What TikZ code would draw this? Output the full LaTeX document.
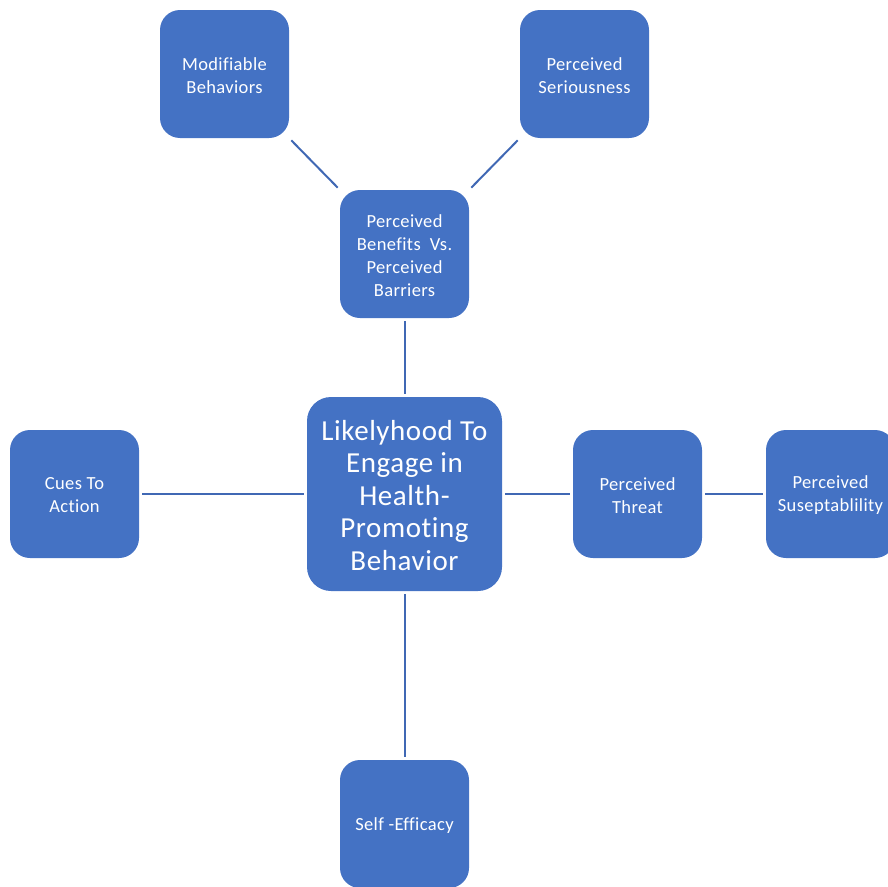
\documentclass[tikz,border=0pt]{standalone}
\usepackage{fontspec}
\setmainfont{Carlito}[LetterSpace=2,Ligatures={NoCommon,NoDiscretionary,NoContextual}]
\definecolor{boxblue}{HTML}{4472C4}
\definecolor{lineblue}{HTML}{4068B4}
\begin{document}
\begin{tikzpicture}[x=1pt,y=-1pt,
  box/.style={draw=none, fill=boxblue, rounded corners=20pt, minimum width=129pt, minimum height=128pt,
    text=white, align=center, inner sep=0pt, font=\fontsize{18.5}{23}\selectfont},
  bigbox/.style={box, minimum width=195pt, minimum height=194pt, rounded corners=24pt,
    font=\fontsize{29}{32.5}\selectfont},
  lbl/.style={text=white, align=center, inner sep=0pt},
  link/.style={draw=lineblue, line width=2pt, shorten <=3pt, shorten >=3pt}]
\useasboundingbox (0,0) rectangle (888,886);
\node[box] (mod) at (224.5,74) {};
\node[box] (ser) at (584.5,74) {};
\node[box] (ben) at (404.5,254) {};
\node[bigbox] (ctr) at (404.5,494) {};
\node[box] (cue) at (74.5,494) {};
\node[box] (thr) at (637.5,494) {};
\node[box] (sus) at (830.5,494) {};
\node[box] (eff) at (404.5,824) {};
\node[lbl, font=\fontsize{18.5}{23}\selectfont] (modt) at ([yshift=-1.5pt]mod.center) {Modifiable\\Behaviors};
\node[lbl, font=\fontsize{18.5}{23}\selectfont] (sert) at ([yshift=-1.5pt]ser.center) {Perceived\\Seriousness};
\node[lbl, font=\fontsize{18.5}{23}\selectfont] (bent) at ([yshift=-1.5pt]ben.center) {Perceived\\Benefits~ Vs.\\Perceived\\Barriers};
\node[lbl, font=\fontsize{29}{32.5}\selectfont] (ctrt) at ([yshift=-1.5pt]ctr.center) {Likelyhood To\\Engage in\\Health-\\Promoting\\Behavior};
\node[lbl, font=\fontsize{18.5}{23}\selectfont] (cuet) at ([yshift=-1.5pt]cue.center) {Cues To\\Action};
\node[lbl, font=\fontsize{18.5}{23}\selectfont] (thrt) at ([yshift=-1.5pt]thr.center) {Perceived\\Threat};
\node[lbl, font=\fontsize{18.5}{23}\selectfont] (sust) at ([yshift=-1.5pt]sus.center) {Perceived\\Suseptablility};
\node[lbl, font=\fontsize{18.5}{23}\selectfont] (efft) at ([yshift=-1.5pt]eff.center) {Self -Efficacy};
\draw[link] (mod.south east) -- (ben.north west);
\draw[link] (ser.south west) -- (ben.north east);
\draw[link] (ben.south) -- (ctr.north);
\draw[link] (cue.east) -- (ctr.west);
\draw[link] (ctr.east) -- (thr.west);
\draw[link] (thr.east) -- (sus.west);
\draw[link] (ctr.south) -- (eff.north);
\end{tikzpicture}
\end{document}
